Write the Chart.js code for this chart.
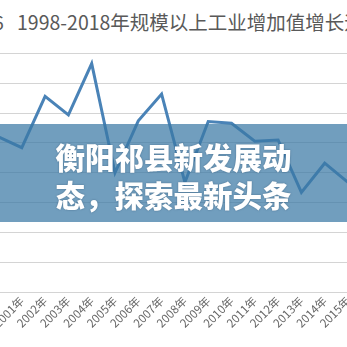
<!DOCTYPE html>
<html>
<head>
<meta charset="utf-8">
<script src="https://cdn.jsdelivr.net/npm/chart.js@4/dist/chart.umd.min.js"></script>
<style>
  html, body { margin:0; padding:0; width:347px; height:347px; overflow:hidden; background:#fff; }
  #title6 { position:absolute; left:-7px; top:7px; font:19.5px "Noto Sans CJK SC", sans-serif; color:#595959; white-space:nowrap; }
  #title { position:absolute; left:17px; top:7px; font:19.5px "Noto Sans CJK SC", sans-serif; color:#595959; white-space:nowrap; }
  #wrap { position:absolute; left:-3.5px; top:52px; width:352.5px; height:295px; }
  #band { position:absolute; left:0; top:124px; width:347px; height:98px; background:rgba(58,120,165,0.72); }
  #headline { position:absolute; left:0; top:137px; width:347px; text-align:center; color:#fff;
              font:900 29.5px/38px "Noto Sans CJK SC", sans-serif; text-shadow:0 0 2px rgba(30,60,90,0.5); }
</style>
</head>
<body>
<div id="title6">6</div>
<div id="title">1998-2018年规模以上工业增加值增长速度</div>
<div id="wrap"><canvas id="c"></canvas></div>
<div id="band"></div>
<div id="headline">衡阳祁县新发展动<br>态，探索最新头条</div>
<script>
const years = ['2000年','2001年','2002年','2003年','2004年','2005年','2006年','2007年','2008年','2009年','2010年','2011年','2012年','2013年','2014年','2015年'];
const growth = [26.0, 24.2, 32.8, 29.7, 38.3, 20.0, 28.7, 33.2, 18.4, 28.6, 28.3, 25.3, 25.5, 16.7, 21.6, 18.4];
const yMin = 0, yMax = 40, yStep = 5;

new Chart(document.getElementById('c'), {
  type: 'line',
  data: {
    labels: years,
    datasets: [{
      data: growth,
      borderColor: '#4a83b7',
      borderWidth: 3,
      pointRadius: 0,
      tension: 0,
      fill: false
    }]
  },
  options: {
    responsive: true,
    maintainAspectRatio: false,
    animation: false,
    layout: { padding: 0 },
    plugins: { legend: { display: false }, tooltip: { enabled: false }, title: { display: false } },
    scales: {
      x: {
        offset: false,
        grid: { display: false, drawTicks: false },
        border: { display: false },
        ticks: {
          autoSkip: false,
          minRotation: 45, maxRotation: 45,
          color: '#666666',
          font: { family: '"Noto Sans CJK SC", sans-serif', size: 11.5 },
          padding: 2
        },
        afterFit: (a) => { a.height = 55; a.paddingLeft = 0; a.paddingRight = 0; }
      },
      y: {
        min: yMin, max: yMax,
        ticks: { display: false, stepSize: yStep },
        grid: { color: '#d4d4d4', lineWidth: 1, drawTicks: false },
        border: { display: false },
        afterFit: (a) => { a.width = 0; }
      }
    }
  }
});
</script>
</body>
</html>
